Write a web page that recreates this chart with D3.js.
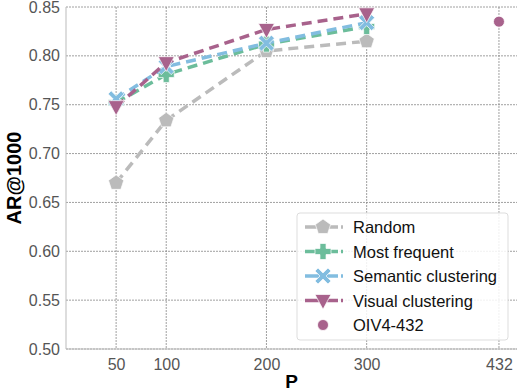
<!DOCTYPE html>
<html>
<head>
<meta charset="utf-8">
<script src="https://cdn.jsdelivr.net/npm/d3@7"></script>
<style>
	body { margin: 0; background: #fff; }
	text { font-family: "Liberation Sans", Arial, sans-serif; }
</style>
</head>
<body>
<div id="chart"></div>
<script>
// data
var pValues = [50, 100, 200, 300];
var randomVals = [0.670, 0.734, 0.805, 0.815];
var mostFreqVals = [0.752, 0.781, 0.812, 0.830];
var semanticVals = [0.756, 0.789, 0.813, 0.834];
var visualVals = [0.748, 0.793, 0.827, 0.843];
var oivP = [432];
var oivVals = [0.835];
var xTicks = [50, 100, 200, 300, 432];
var yTicks = [0.50, 0.55, 0.60, 0.65, 0.70, 0.75, 0.80, 0.85];

var seriesList = [
	{name: 'Random', vals: randomVals, color: '#bbbbbb', marker: 'pentagon'},
	{name: 'Most frequent', vals: mostFreqVals, color: '#6cbd9b', marker: 'plus'},
	{name: 'Semantic clustering', vals: semanticVals, color: '#82bde0', marker: 'cross'},
	{name: 'Visual clustering', vals: visualVals, color: '#a8628c', marker: 'triangle'}
];

var width = 518, height = 392;
var plotL = 66, plotR = 517, plotT = 7, plotB = 349;
var mSize = 8;

var svg = d3.select('#chart').append('svg')
	.attr('width', width)
	.attr('height', height);

var x = d3.scaleLinear().domain([0, 450]).range([plotL, plotR]);
var y = d3.scaleLinear().domain([0.5, 0.85]).range([plotB, plotT]);

// grid
var grid = svg.append('g').attr('class', 'grid');
grid.selectAll('.gx').data(xTicks).enter().append('line')
	.attr('x1', function(d) { return x(d); }).attr('x2', function(d) { return x(d); })
	.attr('y1', plotT).attr('y2', plotB)
	.attr('stroke', '#888').attr('stroke-width', 0.8).attr('stroke-dasharray', '2,1');
grid.selectAll('.gy').data(yTicks).enter().append('line')
	.attr('x1', plotL).attr('x2', plotR)
	.attr('y1', function(d) { return y(d); }).attr('y2', function(d) { return y(d); })
	.attr('stroke', '#888').attr('stroke-width', 0.8).attr('stroke-dasharray', '2,1');

// spines
svg.append('line').attr('x1', plotL).attr('x2', plotL).attr('y1', plotT).attr('y2', plotB)
	.attr('stroke', '#bbb').attr('stroke-width', 1);
svg.append('line').attr('x1', plotL).attr('x2', plotR).attr('y1', plotB).attr('y2', plotB)
	.attr('stroke', '#bbb').attr('stroke-width', 1);

// axes
var xAxis = svg.append('g')
	.attr('transform', 'translate(0,' + plotB + ')')
	.call(d3.axisBottom(x).tickValues(xTicks).tickSize(0).tickPadding(10).tickFormat(d3.format('d')));
var yAxis = svg.append('g')
	.attr('transform', 'translate(' + plotL + ',0)')
	.call(d3.axisLeft(y).tickValues(yTicks).tickSize(0).tickPadding(6).tickFormat(d3.format('.2f')));
[xAxis, yAxis].forEach(function(a) {
	a.select('.domain').remove();
	a.selectAll('text').attr('fill', '#555').style('font-size', '16px')
		.style('font-family', '"Liberation Sans", Arial, sans-serif');
});

svg.append('text')
	.attr('transform', 'translate(21,' + ((plotT + plotB) / 2) + ') rotate(-90)')
	.attr('text-anchor', 'middle')
	.style('font-size', '20px').style('font-weight', 'bold')
	.text('AR@1000');
svg.append('text')
	.attr('x', (plotL + plotR) / 2).attr('y', 388)
	.attr('text-anchor', 'middle')
	.style('font-size', '19px').style('font-weight', 'bold')
	.text('P');

function markerPath(type, s) {
	var p = d3.path();
	if (type === 'pentagon') {
		for (var i = 0; i < 5; i++) {
			var a = -Math.PI / 2 + i * 2 * Math.PI / 5;
			if (i === 0) p.moveTo(s * Math.cos(a), s * Math.sin(a));
			else p.lineTo(s * Math.cos(a), s * Math.sin(a));
		}
		p.closePath();
		return p.toString();
	}
	if (type === 'plus') {
		var w = s * 0.38;
		return 'M' + [-w, -s] + 'L' + [w, -s] + 'L' + [w, -w] + 'L' + [s, -w] + 'L' + [s, w] + 'L' + [w, w] +
			'L' + [w, s] + 'L' + [-w, s] + 'L' + [-w, w] + 'L' + [-s, w] + 'L' + [-s, -w] + 'L' + [-w, -w] + 'Z';
	}
	if (type === 'cross') {
		var q = s * 0.38;
		var pts = [[-q, 0], [-s, -s + q], [-s + q, -s], [0, -q], [s - q, -s], [s, -s + q], [q, 0], [s, s - q], [s - q, s], [0, q], [-s + q, s], [-s, s - q]];
		return 'M' + pts.join('L') + 'Z';
	}
	if (type === 'triangle') {
		return 'M' + [-s, -s * 0.75] + 'L' + [s, -s * 0.75] + 'L' + [0, s * 1.1] + 'Z';
	}
	return d3.symbol().type(d3.symbolCircle).size(s * s * 3)();
}

var line = d3.line()
	.x(function(d) { return x(d.p); })
	.y(function(d) { return y(d.v); });

seriesList.forEach(function(s) {
	var pts = pValues.map(function(p, i) { return {p: p, v: s.vals[i]}; });
	var g = svg.append('g').attr('class', 'series');
	g.append('path')
		.datum(pts)
		.attr('d', line)
		.attr('fill', 'none')
		.attr('stroke', s.color)
		.attr('stroke-width', 3.5)
		.attr('stroke-dasharray', '10,6');
	g.selectAll('.mk').data(pts).enter().append('path')
		.attr('class', 'mk')
		.attr('transform', function(d) { return 'translate(' + x(d.p) + ',' + y(d.v) + ')'; })
		.attr('d', markerPath(s.marker, mSize))
		.attr('fill', s.color)
		.attr('stroke', '#fff')
		.attr('stroke-opacity', 0.7)
		.attr('stroke-width', 1);
});

svg.selectAll('.oiv').data(oivP).enter().append('circle')
	.attr('cx', function(d) { return x(d); })
	.attr('cy', function(d, i) { return y(oivVals[i]); })
	.attr('r', 5.5)
	.attr('fill', '#a8628c')
	.attr('stroke', '#fff')
	.attr('stroke-width', 0.8);

// legend
var legend = svg.append('g').attr('transform', 'translate(297,213)');
legend.append('rect')
	.attr('width', 211).attr('height', 127)
	.attr('rx', 3)
	.attr('fill', '#fff').attr('fill-opacity', 0.85)
	.attr('stroke', '#ddd').attr('stroke-width', 1);

var legendItems = seriesList.concat([{name: 'OIV4-432', color: '#a8628c', marker: 'circle'}]);
legendItems.forEach(function(s, i) {
	var ly = 14 + i * 24.5;
	var item = legend.append('g').attr('transform', 'translate(0,' + ly + ')');
	if (s.marker !== 'circle') {
		item.append('line')
			.attr('x1', 8).attr('x2', 46).attr('y1', 0).attr('y2', 0)
			.attr('stroke', s.color).attr('stroke-width', 3.5)
			.attr('stroke-dasharray', '33,3');
		item.append('path')
			.attr('transform', 'translate(26,0)')
			.attr('d', markerPath(s.marker, mSize))
			.attr('fill', s.color)
			.attr('stroke', '#fff').attr('stroke-opacity', 0.7).attr('stroke-width', 1);
	} else {
		item.append('circle').attr('cx', 26).attr('cy', 0).attr('r', 5.5)
			.attr('fill', s.color).attr('stroke', '#fff').attr('stroke-width', 0.8);
	}
	item.append('text')
		.attr('x', 56).attr('y', 6)
		.style('font-size', '16.5px')
		.attr('fill', '#111')
		.text(s.name);
});
</script>
</body>
</html>
